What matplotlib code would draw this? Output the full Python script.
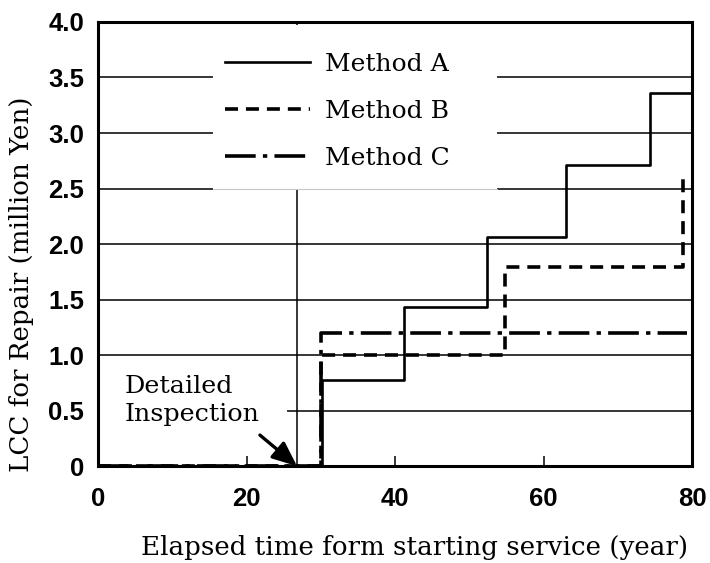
import matplotlib
matplotlib.use("Agg")
import matplotlib.pyplot as plt
from matplotlib.patches import Rectangle

# data
a_x = [0, 30.1, 41.2, 52.4, 63.0, 74.3, 80.0]
a_y = [0, 0.78, 1.43, 2.06, 2.71, 3.36, 3.36]
b_x = [0, 30.0, 54.8, 78.7]
b_y = [0, 1.00, 1.79, 2.65]
c_x = [0, 30.0, 79.3]
c_y = [0, 1.20, 1.20]
labels = ["Method A", "Method B", "Method C"]

inspect_year = 26.8
y_ticks = [0, 0.5, 1.0, 1.5, 2.0, 2.5, 3.0, 3.5, 4.0]
y_ticklabels = ["0", "0.5", "1.0", "1.5", "2.0", "2.5", "3.0", "3.5", "4.0"]
x_ticks = [0, 20, 40, 60, 80]

serif = "DejaVu Serif"
tick_font = {"family": "Liberation Sans", "weight": "bold", "size": 18.5}

fig = plt.figure(figsize=(7.1, 5.63), dpi=100)
ax = fig.add_axes([0.138, 0.172, 0.837, 0.789])

# grid lines (0.5 line is covered by the annotation text on the left)
for yy in y_ticks[2:-1]:
    ax.axhline(yy, color="black", lw=1.1, zorder=1)
ax.hlines(0.5, 25.4, 80, color="black", lw=1.1, zorder=1)
ax.axvline(inspect_year, color="black", lw=1.1, zorder=1)

ax.plot(a_x, a_y, drawstyle="steps-post", color="black", lw=1.9,
        label=labels[0], zorder=3)
ax.plot(b_x, b_y, drawstyle="steps-post", color="black", lw=2.6,
        linestyle=(0, (3.6, 2.2)), label=labels[1], zorder=3)
ax.plot(c_x, c_y, drawstyle="steps-post", color="black", lw=2.6,
        linestyle=(0, (8.5, 2.0, 1.2, 2.0)), label=labels[2], zorder=3)

# annotation
ax.text(3.6, 0.59, "Detailed\nInspection", fontsize=18.3, family=serif,
        ha="left", va="center", linespacing=1.25)
ax.annotate("", xy=(inspect_year, 0), xytext=(21.8, 0.28),
            arrowprops=dict(arrowstyle="-|>,head_length=0.75,head_width=0.32",
                            mutation_scale=20, color="black", lw=2.4,
                            shrinkA=0, shrinkB=0))

# white box behind the legend
ax.add_patch(Rectangle((0.194, 0.624), 0.478, 0.37, transform=ax.transAxes,
                       facecolor="white", edgecolor="none", zorder=2))
ax.plot([0.194, 0.672], [0.624, 0.624], transform=ax.transAxes,
        color="#c8c8c8", lw=0.8, zorder=2.1)

leg = ax.legend(loc="upper left", bbox_to_anchor=(0.214, 0.93),
                borderaxespad=0, frameon=False,
                prop={"family": serif, "size": 18},
                handlelength=3.4, handletextpad=0.6, labelspacing=0.95,
                borderpad=0)

ax.set_xlim(0, 80)
ax.set_ylim(0, 4.0)
ax.set_xticks(x_ticks)
ax.set_xticklabels([str(v) for v in x_ticks], fontdict=tick_font)
ax.set_yticks(y_ticks)
ax.set_yticklabels(y_ticklabels, fontdict=tick_font)
ax.tick_params(axis="x", direction="in", length=7, width=1.1, pad=15)
ax.tick_params(axis="y", length=0, pad=10)

for s in ax.spines.values():
    s.set_linewidth(2.2)
    s.set_zorder(4)

ax.set_xlabel("Elapsed time form starting service (year)", family=serif,
              fontsize=18.8)
ax.xaxis.set_label_coords(0.532, -0.155)
ax.set_ylabel("LCC for Repair (million Yen)", family=serif, fontsize=18.8)
ax.yaxis.set_label_coords(-0.108, 0.41)

fig.savefig("out.png", dpi=100)
